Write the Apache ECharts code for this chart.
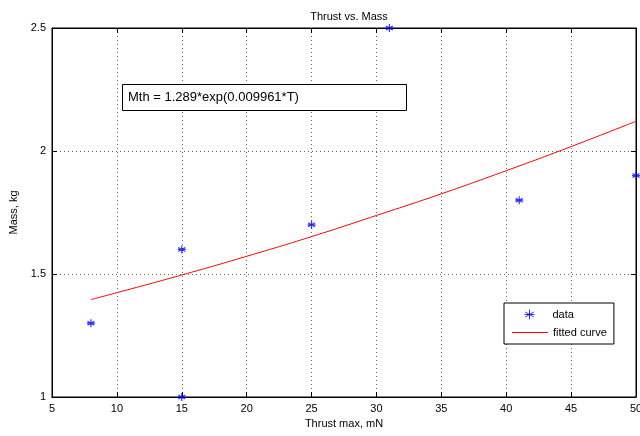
<!DOCTYPE html>
<html><head><meta charset="utf-8">
<script src="https://cdn.jsdelivr.net/npm/echarts@6/dist/echarts.min.js"></script>
<style>html,body{margin:0;padding:0;background:#fff}#c{width:640px;height:436px}</style>
</head><body><div id="c"></div>
<script>
const dataThrust = [8, 15, 15, 25, 31, 41, 50];
const dataMass = [1.3, 1.6, 1.0, 1.7, 2.5, 1.8, 1.9];
const fitThrust = [8, 10, 15, 20, 25, 30, 35, 40, 45, 50];
const fitMass = [1.396, 1.424, 1.496, 1.572, 1.652, 1.738, 1.826, 1.920, 2.018, 2.121];
const xTicks = [5, 10, 15, 20, 25, 30, 35, 40, 45, 50];
const yTicks = [1, 1.5, 2, 2.5];

const star = 'path://M0,-5L0,5M-4.33,-2.5L4.33,2.5M-4.33,2.5L4.33,-2.5M-5,0L5,0';
const font = 'Liberation Sans, Arial, sans-serif';
const chart = echarts.init(document.getElementById('c'));
const baseAxis = {
  axisLine: {show: true, lineStyle: {color: '#000', width: 1}},
  axisTick: {show: true, inside: true, length: 5, lineStyle: {color: '#000'}},
  axisLabel: {color: '#000', fontFamily: font, fontSize: 11},
  splitLine: {show: false}
};
chart.setOption({
  animation: false,
  title: {text: 'Thrust vs. Mass', left: 344, top: 6, textAlign: 'center',
    textStyle: {fontFamily: font, fontSize: 11, fontWeight: 'normal', color: '#000'}},
  grid: {left: 52, right: 4, top: 28, bottom: 39, show: true, borderColor: '#000', borderWidth: 1,
    outerBoundsMode: 'none', containLabel: false},
  xAxis: [
    Object.assign({}, baseAxis, {type: 'value', min: xTicks[0], max: xTicks[xTicks.length-1], interval: 5,
      name: 'Thrust max, mN', nameLocation: 'middle', nameGap: 21,
      nameTextStyle: {fontFamily: font, fontSize: 11, color: '#000'},
      axisLabel: {color: '#000', fontFamily: font, fontSize: 11, margin: 6},
      splitLine: {show: true, lineStyle: {color: '#666', type: [1, 3], width: 1}}}),
    Object.assign({}, baseAxis, {type: 'value', position: 'top', min: 5, max: 50, interval: 5,
      axisLabel: {show: false}})
  ],
  yAxis: [
    Object.assign({}, baseAxis, {type: 'value', min: yTicks[0], max: yTicks[yTicks.length-1], interval: 0.5,
      name: 'Mass, kg', nameLocation: 'middle', nameGap: 28, nameRotate: 90,
      nameTextStyle: {fontFamily: font, fontSize: 11, color: '#000'},
      axisLabel: {color: '#000', fontFamily: font, fontSize: 11, margin: 6},
      splitLine: {show: true, lineStyle: {color: '#666', type: [1, 3], width: 1}}}),
    Object.assign({}, baseAxis, {type: 'value', position: 'right', min: 1, max: 2.5, interval: 0.5,
      axisLabel: {show: false}})
  ],
  legend: [
    {
      orient: 'vertical', left: 504, top: 303,
      borderColor: '#000', borderWidth: 1, backgroundColor: '#fff', borderRadius: 0,
      padding: [4, 40, 22, 18], itemGap: 4, itemWidth: 36, itemHeight: 10,
      textStyle: {fontFamily: font, fontSize: 11, color: '#000'},
      data: [{name: 'data', icon: star, itemStyle: {color: 'none', borderColor: '#0000ff', borderWidth: 1}}]
    },
    {
      orient: 'vertical', left: 512, top: 327, z: 5,
      padding: 0, itemGap: 0, itemWidth: 36, itemHeight: 1,
      textStyle: {fontFamily: font, fontSize: 11, color: '#000'},
      data: [{name: 'fitted curve', icon: 'rect', itemStyle: {color: '#ff0000', borderWidth: 0}}]
    }
  ],
  series: [
    {name: 'data', type: 'scatter', symbol: star, symbolSize: 8,
      itemStyle: {color: 'none', borderColor: '#0000ff', borderWidth: 1.2},
      data: dataThrust.map((t, i) => [t, dataMass[i]]), z: 5, clip: false},
    {name: 'fitted curve', type: 'line', smooth: true, symbol: 'none', showSymbol: false,
      lineStyle: {color: '#ff0000', width: 1}, itemStyle: {color: '#ff0000'},
      data: fitThrust.map((t, i) => [t, fitMass[i]])}
  ],
  graphic: [
    {type: 'rect', shape: {x: 122.5, y: 84.5, width: 284, height: 26},
      style: {fill: '#fff', stroke: '#000', lineWidth: 1}, z: 10},
    {type: 'text', x: 128, y: 97.5, z: 11,
      style: {text: 'Mth = 1.289*exp(0.009961*T)', font: '13px ' + font, fill: '#000', verticalAlign: 'middle'}}
  ]
});
</script></body></html>
